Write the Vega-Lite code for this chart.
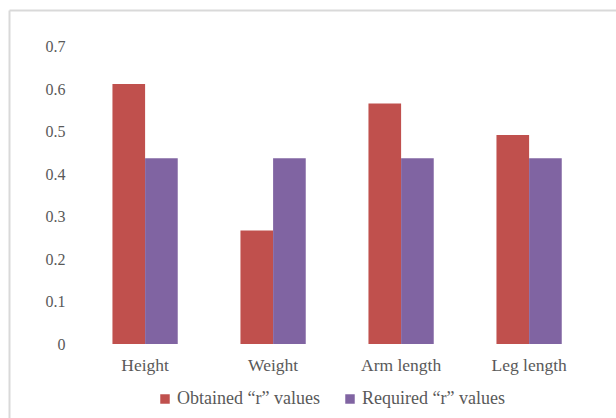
{
  "$schema": "https://vega.github.io/schema/vega-lite/v6.json",
  "width": 607,
  "height": 408,
  "autosize": {"type": "none"},
  "padding": {"left": 9, "top": 10, "right": 0, "bottom": 0},
  "background": "white",
  "config": {"view": {"stroke": null}, "font": "Liberation Serif"},
  "data": {
    "values": [
      {"trait": "Height", "series": "Obtained “r” values", "value": 0.612},
      {"trait": "Height", "series": "Required “r” values", "value": 0.437},
      {"trait": "Weight", "series": "Obtained “r” values", "value": 0.267},
      {"trait": "Weight", "series": "Required “r” values", "value": 0.437},
      {"trait": "Arm length", "series": "Obtained “r” values", "value": 0.566},
      {"trait": "Arm length", "series": "Required “r” values", "value": 0.437},
      {"trait": "Leg length", "series": "Obtained “r” values", "value": 0.492},
      {"trait": "Leg length", "series": "Required “r” values", "value": 0.437}
    ]
  },
  "mark": {"type": "bar"},
  "encoding": {
    "x": {
      "field": "trait",
      "type": "nominal",
      "sort": ["Height", "Weight", "Arm length", "Leg length"],
      "scale": {"paddingInner": 0.49, "paddingOuter": 0.616, "align": 0.656},
      "axis": {
        "orient": "top",
        "title": null,
        "ticks": false,
        "tickSize": 0,
        "grid": false,
        "domainColor": "#d9d9d9",
        "domainWidth": 2,
        "labelAngle": 0,
        "labelPadding": -360.7,
        "labelBaseline": "alphabetic",
        "labelFont": "Liberation Serif",
        "labelFontSize": 17.5,
        "labelColor": "#595959"
      }
    },
    "xOffset": {
      "field": "series",
      "type": "nominal",
      "sort": ["Obtained “r” values", "Required “r” values"]
    },
    "y": {
      "field": "value",
      "type": "quantitative",
      "scale": {"domain": [-0.1741, 0.7859], "nice": false, "zero": false},
      "axis": {
        "orient": "left",
        "title": null,
        "values": [0, 0.1, 0.2, 0.3, 0.4, 0.5, 0.6, 0.7],
        "format": ".1~f",
        "ticks": false,
        "tickSize": 0,
        "grid": false,
        "domainColor": "#d9d9d9",
        "domainWidth": 2,
        "labelPadding": -56,
        "labelFont": "Liberation Serif",
        "labelFontSize": 16,
        "labelColor": "#595959"
      }
    },
    "y2": {"datum": 0},
    "color": {
      "field": "series",
      "type": "nominal",
      "sort": ["Obtained “r” values", "Required “r” values"],
      "scale": {"domain": ["Obtained “r” values", "Required “r” values"], "range": ["#C0504D", "#8064A2"]},
      "legend": {
        "orient": "none",
        "legendX": 147,
        "legendY": 380,
        "direction": "horizontal",
        "title": null,
        "symbolType": "square",
        "symbolSize": 90,
        "symbolStrokeWidth": 0,
        "labelFont": "Liberation Serif",
        "labelFontSize": 18,
        "labelColor": "#595959",
        "labelLimit": 300,
        "columnPadding": 21,
        "labelOffset": 3,
        "padding": 0
      }
    }
  }
}
